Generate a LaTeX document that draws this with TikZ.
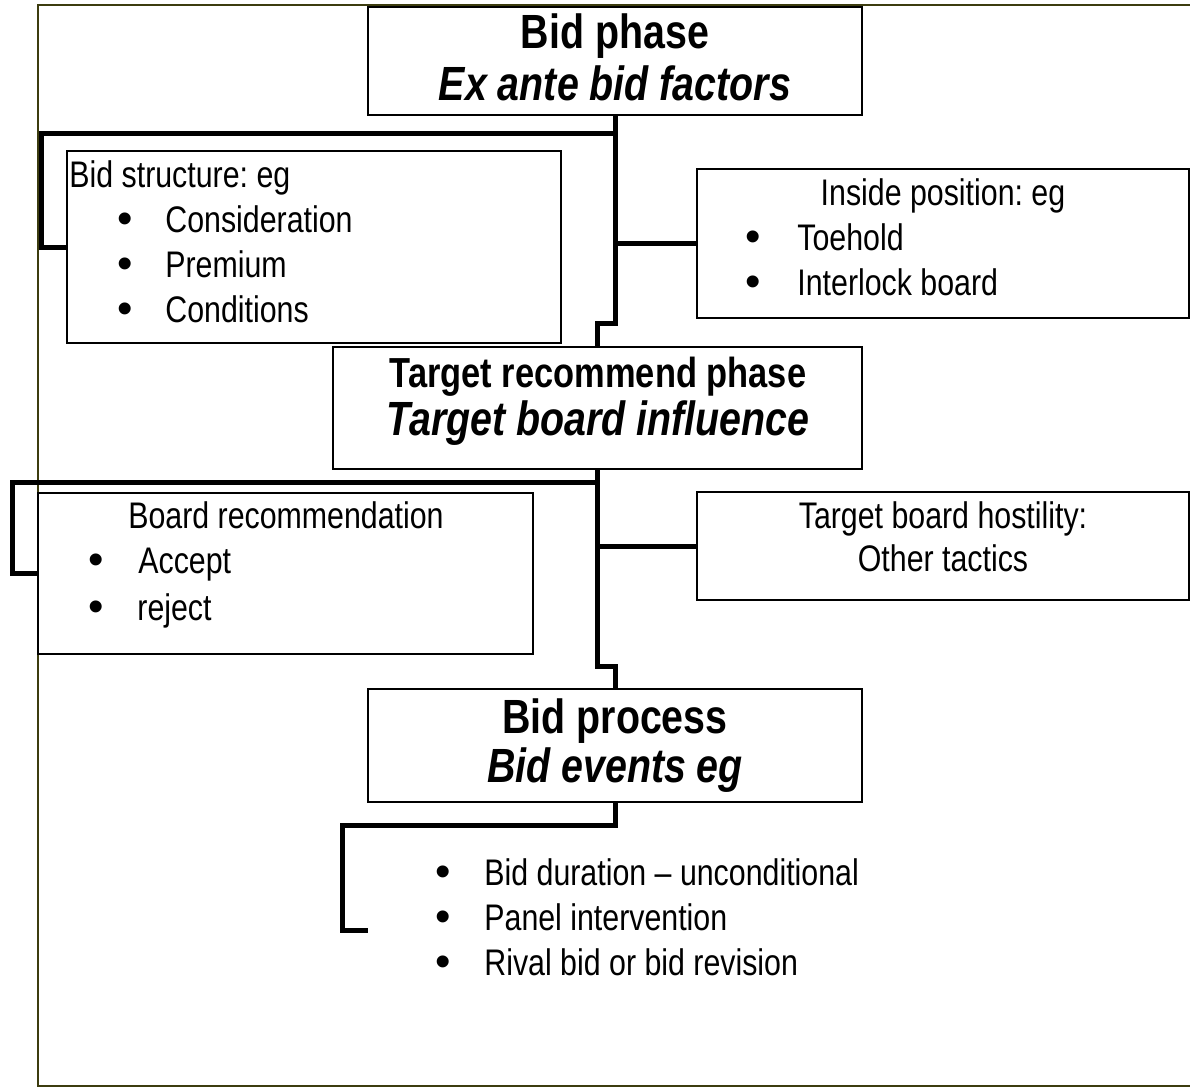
\documentclass[tikz,border=0pt]{standalone}
\usepackage{fontspec}
\setmainfont{Liberation Sans}[FakeStretch=0.82]
\newfontfamily\bulletfont{Liberation Sans}
\usetikzlibrary{fit}
\definecolor{frameolive}{RGB}{60,60,15}
\frenchspacing

\begin{document}
\begin{tikzpicture}[x=0.5pt, y=-0.5pt,
		box/.style={draw=black, line width=1pt, inner sep=0pt},
		conn/.style={draw=black, line width=2.5pt, line join=miter},
		title/.style={inner sep=0pt, anchor=base, font=\fontsize{24}{28}\selectfont\bfseries},
		titleit/.style={title, font=\fontsize{24}{28}\selectfont\bfseries\itshape},
		body/.style={inner sep=0pt, anchor=base west, font=\fontsize{18.5}{22}\selectfont},
		bodyc/.style={body, anchor=base},
		bul/.style={inner sep=0pt, anchor=center, font=\bulletfont\fontsize{22}{24}\selectfont}]
		\useasboundingbox (0,0) rectangle (1190,1088);
		\clip (0,0) rectangle (1190,1088);
		
		% OUTER FRAME
		\draw[frameolive, line width=1pt] (38,5) rectangle (1260,1086);
		
		% THE BOXES
		\node[box, fit={(368,7) (862,115)}] (bidphase) {};
		\node[box, fit={(67,151) (561,343)}] (bidstruct) {};
		\node[box, fit={(697,169) (1189,318)}] (insidepos) {};
		\node[box, fit={(333,347) (862,469)}] (target) {};
		\node[box, fit={(38,493) (533,654)}] (boardrec) {};
		\node[box, fit={(697,492) (1189,600)}] (hostility) {};
		\node[box, fit={(368,689) (862,802)}] (bidproc) {};
		
		% CONNECTORS
		\coordinate (bsbend) at (41,133);
		\coordinate (brbend) at (12,482);
		\coordinate (evbend) at (342,930);
		\coordinate (evend) at (368,930);
		\draw[conn] (bidphase.south) -- ++(0,207) -| (target.north);
		\draw[conn] (bidphase.south |- bsbend) -- (bsbend) |- (bidstruct.west);
		\draw[conn] (insidepos.west) -- (insidepos.west -| bidphase.south);
		\draw[conn] (target.south) -- ++(0,196) -| (bidproc.north);
		\draw[conn] (target.south |- brbend) -- (brbend) |- (boardrec.west);
		\draw[conn] (hostility.west) -- (hostility.west -| target.south);
		\draw[conn] (bidproc.south) -- ++(0,22) -| (evbend) -- (evend);
		
		% PHASE TITLES
		\node[title] (bidphasehd) at (615,48) {Bid phase};
		\node[titleit] (bidphaseit) at (615,100) {Ex ante bid factors};
		\node[title, font=\fontsize{21}{25}\selectfont\bfseries] (targethd) at (598,387) {Target recommend phase};
		\node[titleit] (targetit) at (598,435) {Target board influence};
		\node[title] (bidprochd) at (615,733) {Bid process};
		\node[titleit] (bidprocit) at (615,782) {Bid events eg};
		
		% BID STRUCTURE
		\node[body] (bshd) at (69,187) {Bid structure: eg};
		\node[bul] (bsb1) at (125,223) {\textbullet};
		\node[body] (bs1) at (165,232) {Consideration};
		\node[bul] (bsb2) at (125,268) {\textbullet};
		\node[body] (bs2) at (165,277) {Premium};
		\node[bul] (bsb3) at (125,313) {\textbullet};
		\node[body] (bs3) at (165,322) {Conditions};
		
		% INSIDE POSITION
		\node[bodyc] (iphd) at (943,205) {Inside position: eg};
		\node[bul] (ipb1) at (753,241) {\textbullet};
		\node[body] (ip1) at (797,250) {Toehold};
		\node[bul] (ipb2) at (753,286) {\textbullet};
		\node[body] (ip2) at (797,295) {Interlock board};
		
		% BOARD RECOMMENDATION
		\node[bodyc] (brhd) at (286,528) {Board recommendation};
		\node[bul] (brb1) at (96,564) {\textbullet};
		\node[body] (br1) at (138,573) {Accept};
		\node[bul] (brb2) at (96,611) {\textbullet};
		\node[body] (br2) at (137,620) {reject};
		
		% HOSTILITY
		\node[bodyc] (hohd) at (943,528) {Target board hostility:};
		\node[bodyc] (ho1) at (943,571) {Other tactics};
		
		% BID EVENTS
		\node[bul] (evb1) at (443,876) {\textbullet};
		\node[body] (ev1) at (484,885) {Bid duration -- unconditional};
		\node[bul] (evb2) at (443,921) {\textbullet};
		\node[body] (ev2) at (484,930) {Panel intervention};
		\node[bul] (evb3) at (443,966) {\textbullet};
		\node[body] (ev3) at (484,975) {Rival bid or bid revision};
	\end{tikzpicture}
\end{document}
